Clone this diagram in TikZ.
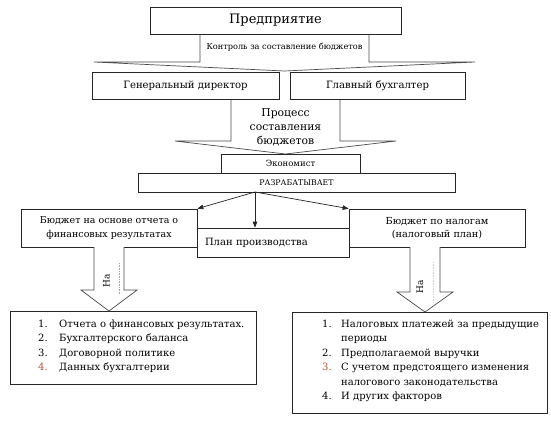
\documentclass[tikz,border=0pt]{standalone}
\usepackage{fontspec}
\setmainfont{DejaVu Serif}
\usetikzlibrary{arrows.meta}
\definecolor{numred}{RGB}{192,80,60}
\definecolor{dotor}{RGB}{225,150,90}
\definecolor{dotye}{RGB}{235,225,120}
\tikzset{
  box/.style={draw=black!85, line width=0.7pt, fill=white, inner sep=0pt},
  blk/.style={draw=black!70, line width=0.7pt, fill=white},
  con/.style={draw=black!85, line width=0.7pt, -{Triangle[length=6pt,width=4.5pt]}},
  txt/.style={inner sep=0pt},
  fs/.style={font=\fontsize{#1}{#1}\selectfont},
}
\begin{document}
\begin{tikzpicture}[x=1pt,y=-1pt]
\useasboundingbox[fill=white] (0,0) rectangle (551,420);

% block arrow 1
\draw[blk] (200,34) -- (200,62) -- (94,62) -- (284.5,71) -- (475,62) -- (369,62) -- (369,34);
\node[box, minimum width=251pt, minimum height=27pt, fs=13] (ent) at (275.5,20.5) {Предприятие};
\node[txt, fs=8.2] (ctrl) at (284.5,47) {Контроль за составление бюджетов};

% block arrow 2
\draw[blk] (231,99) -- (231,141) -- (175,141) -- (285.5,154) -- (396,141) -- (340,141) -- (340,99);
\node[box, minimum width=187pt, minimum height=27pt, fs=10.1] (gd) at (185.5,85.5) {Генеральный директор};
\node[box, minimum width=175pt, minimum height=27pt, fs=10.1] (gb) at (377.5,85.5) {Главный бухгалтер};
\node[txt, align=center, font=\fontsize{10.8}{14}\selectfont] (proc) at (285.5,127) {Процесс\\составления\\бюджетов};

\node[box, minimum width=139pt, minimum height=19pt, fs=8.5] (eko) at (290.5,163.5) {Экономист};
\node[box, minimum width=317pt, minimum height=19pt, fs=7.8] (razr) at (296.5,182.5) {РАЗРАБАТЫВАЕТ};

% budgets
\node[box, minimum width=152pt, minimum height=29pt, text width=136pt, inner xsep=8pt, align=left, fs=10] (plan) at (273,242.5) {План производства};
\node[box, minimum width=176pt, minimum height=38pt, align=center, font=\fontsize{9.5}{13.5}\selectfont] (bl) at (109,228) {Бюджет на основе отчета о\\финансовых результатах};
\node[box, minimum width=176pt, minimum height=38pt, align=center, font=\fontsize{9.7}{13.5}\selectfont] (br) at (437,228) {Бюджет по налогам\\(налоговый план)};

\coordinate (o) at (255,192);
\draw[con] (o) -- (bl.north east);
\draw[con] (o) -- (o |- plan.north);
\draw[con] (o) -- (br.north west);

% list boxes
\node[box, minimum width=246pt, minimum height=73pt] (lbox) at (133,347.5) {};
\node[box, minimum width=255pt, minimum height=101pt] (rbox) at (419.5,362.5) {};

% "На" arrows
\draw[blk] (94,247) -- (94,290) -- (81,290) -- (109,311) -- (137,290) -- (124,290) -- (124,247);
\draw[blk] (410,247) -- (410,292) -- (397,292) -- (425,312) -- (453,292) -- (440,292) -- (440,247);
\draw[dotor, densely dotted, line width=0.6pt] (119,263) -- (119,295);
\draw[dotye, densely dotted, line width=0.6pt] (433,262) -- (433,303);
\node[txt, rotate=90, fs=9] (na1) at (106.5,281) {На};
\node[txt, rotate=90, fs=9] (na2) at (420,287) {На};

% left list
\begin{scope}[every node/.style={txt, anchor=base west, fs=10}]
\node (l1n) at (38,327) {1.};
\node (l1) at (59,327) {Отчета о финансовых результатах.};
\node (l2n) at (38,341.5) {2.};
\node (l2) at (59,341.5) {Бухгалтерского баланса};
\node (l3n) at (38,356) {3.};
\node (l3) at (59,356) {Договорной политике};
\node[text=numred] (l4n) at (38,370.5) {4.};
\node (l4) at (59,370.5) {Данных бухгалтерии};
% right list
\node (r1n) at (322,327) {1.};
\node (r1) at (341,327) {Налоговых платежей за предыдущие};
\node (r1b) at (341,341.5) {периоды};
\node (r2n) at (322,356) {2.};
\node (r2) at (341,356) {Предполагаемой выручки};
\node[text=numred] (r3n) at (322,370.5) {3.};
\node (r3) at (341,370.5) {С учетом предстоящего изменения};
\node (r3b) at (341,385) {налогового законодательства};
\node (r4n) at (322,399.5) {4.};
\node (r4) at (341,399.5) {И других факторов};
\end{scope}
\end{tikzpicture}
\end{document}
